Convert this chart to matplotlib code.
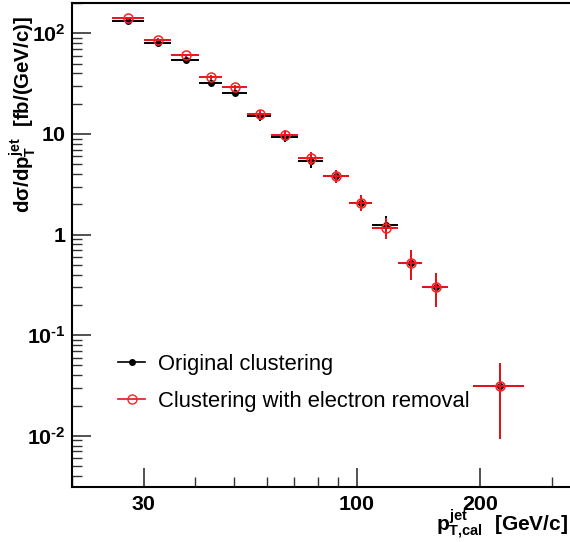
import numpy as np
import matplotlib
matplotlib.use("Agg")
import matplotlib.pyplot as plt
from matplotlib.lines import Line2D
from matplotlib.ticker import FixedLocator, FixedFormatter, NullFormatter, LogLocator

plt.rcParams['font.family'] = ['Liberation Sans', 'DejaVu Sans']
plt.rcParams['mathtext.fontset'] = 'custom'
plt.rcParams['mathtext.rm'] = 'Liberation Sans:bold'
plt.rcParams['mathtext.it'] = 'Liberation Sans:bold'
plt.rcParams['mathtext.bf'] = 'Liberation Sans:bold'

# bins in pT (GeV/c)
pt_center = [27.5, 32.5, 38.0, 43.85, 50.2, 57.65, 66.6, 77.0, 88.85, 102.15, 117.45, 135.2, 155.75, 224.0]
pt_low = [25.0, 30.0, 35.0, 41.0, 46.7, 53.7, 61.6, 71.6, 82.4, 95.3, 109.0, 125.9, 144.5, 192.0]
pt_high = [30.0, 35.0, 41.0, 46.7, 53.7, 61.6, 71.6, 82.4, 95.3, 109.0, 125.9, 144.5, 167.0, 256.0]

# dsigma/dpT [fb/(GeV/c)]
orig_val = [131.8, 80.3, 53.7, 32.1, 25.6, 15.1, 9.34, 5.39, 3.82, 2.08, 1.237, 0.527, 0.304, 0.0313]
orig_err = [4.0, 3.0, 2.5, 2.0, 1.6, 1.6, 1.1, 0.85, 0.56, 0.38, 0.28, 0.17, 0.115, 0.022]
erem_val = [140.4, 86.0, 60.2, 36.4, 29.1, 15.7, 9.78, 5.73, 3.82, 2.08, 1.174, 0.527, 0.304, 0.0313]
erem_err = [4.0, 3.0, 2.5, 2.0, 1.6, 1.6, 1.1, 0.85, 0.56, 0.38, 0.28, 0.17, 0.115, 0.022]

x = np.array(pt_center)
xerr = [x - np.array(pt_low), np.array(pt_high) - x]

fig = plt.figure(figsize=(5.70, 5.42), dpi=100)
ax = fig.add_axes([72 / 570, 55 / 542, 509 / 570, 484 / 542])

ax.errorbar(x, orig_val, xerr=xerr, yerr=orig_err, fmt='o', color='black',
            ms=4, elinewidth=1.4, capsize=0, zorder=3)
ax.errorbar(x, erem_val, xerr=xerr, yerr=erem_err, fmt='o', color='#e8141a',
            mfc='none', mec='#ff2020', ms=6.5, mew=1.1, elinewidth=1.4,
            capsize=0, zorder=4)

ax.set_xscale('log')
ax.set_yscale('log')
ax.set_xlim(20, 354)
ax.set_ylim(0.0031, 200)

ax.xaxis.set_major_locator(FixedLocator([30, 100, 200]))
ax.xaxis.set_major_formatter(FixedFormatter(['30', '100', '200']))
ax.xaxis.set_minor_locator(FixedLocator([20, 40, 50, 60, 70, 80, 90, 300]))
ax.xaxis.set_minor_formatter(NullFormatter())

ax.yaxis.set_major_locator(FixedLocator([1e-2, 1e-1, 1, 10, 100]))
ax.yaxis.set_major_formatter(FixedFormatter([r'$10^{\text{-}2}$', r'$10^{\text{-}1}$', '1', '10', r'$10^{2}$']))
ax.yaxis.set_minor_locator(LogLocator(base=10, subs=np.arange(2, 10)))
ax.yaxis.set_minor_formatter(NullFormatter())

ax.tick_params(which='both', direction='in', top=False, right=False, color='#333333')
ax.tick_params(which='major', length=14, width=1.2, labelsize=15.4)
ax.tick_params(which='minor', length=7, width=1.0)
ax.tick_params(axis='x', which='major', pad=5.5)
ax.tick_params(axis='y', which='major', pad=4.5)
for lab in ax.get_xticklabels() + ax.get_yticklabels():
    lab.set_fontweight('bold')
for sp in ax.spines.values():
    sp.set_linewidth(1.5)

fig.text(30 / 570, 1 - 16 / 542, r'$d\sigma/dp_{T}^{jet}$  [fb/(GeV/c)]', rotation=90,
         rotation_mode='anchor', ha='right', va='baseline', fontsize=14.7, fontweight='bold')
fig.text(568 / 570, 1 - 531.5 / 542, r'$p_{T{,}cal}^{jet}$  [GeV/c]',
         ha='right', va='baseline', fontsize=15, fontweight='bold')

handles = [
    Line2D([], [], color='black', marker='o', ms=4, lw=1.2),
    Line2D([], [], color='#e8141a', marker='o', mfc='none', mec='#ff2020', ms=6.5, lw=1.2),
]
ax.legend(handles, ['Original clustering', 'Clustering with electron removal'],
          loc='upper left', bbox_to_anchor=(118 / 570, 1 - 354 / 542),
          bbox_transform=fig.transFigure, frameon=False, fontsize=15.8,
          borderpad=0, borderaxespad=0, handlelength=1.25, handletextpad=0.55,
          labelspacing=0.72)

fig.savefig('out.png', dpi=100)
